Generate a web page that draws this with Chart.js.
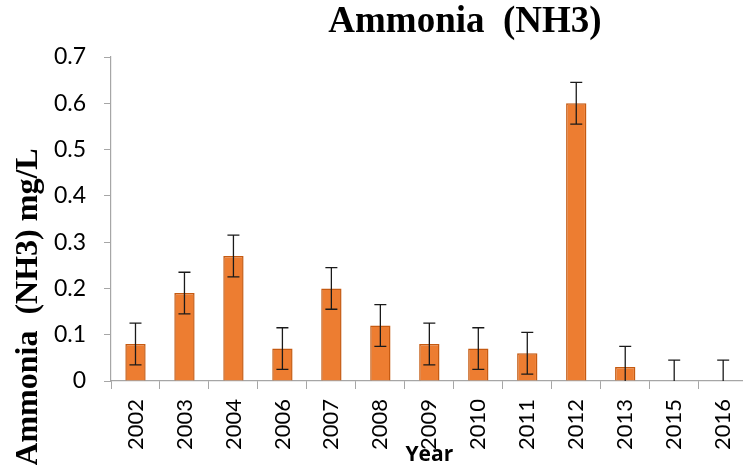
<!DOCTYPE html>
<html>
<head>
<meta charset="utf-8">
<script src="https://cdn.jsdelivr.net/npm/chart.js@4/dist/chart.umd.min.js"></script>
<style>
  html, body { margin: 0; padding: 0; background: #fff; overflow: hidden; }
  #wrap { width: 760px; height: 465px; }
</style>
</head>
<body>
<div id="wrap"><canvas id="c" width="760" height="465"></canvas></div>
<script>
const years = ['2002','2003','2004','2006','2007','2008','2009','2010','2011','2012','2013','2015','2016'];
const means = [0.08, 0.19, 0.27, 0.07, 0.20, 0.12, 0.08, 0.07, 0.06, 0.60, 0.03, 0, 0];
const errors = [0.045, 0.045, 0.045, 0.045, 0.045, 0.045, 0.045, 0.045, 0.045, 0.045, 0.045, 0.045, 0.045];
const yTicks = [0, 0.1, 0.2, 0.3, 0.4, 0.5, 0.6, 0.7];

const titleText = 'Ammonia  (NH3)';
const yTitleText = 'Ammonia  (NH3) mg/L';
const xTitleText = 'Year';

const errorBars = {
  id: 'errorBars',
  afterDatasetsDraw(chart) {
    const ctx = chart.ctx;
    const ys = chart.scales.y;
    const meta = chart.getDatasetMeta(0);
    const a = chart.chartArea;
    ctx.save();
    ctx.beginPath();
    ctx.rect(a.left, a.top - 5, a.right - a.left, a.bottom - a.top + 5);
    ctx.clip();
    ctx.strokeStyle = '#1a1a1a';
    ctx.lineWidth = 1.3;
    meta.data.forEach((bar, i) => {
      const x = bar.x;
      const yt = ys.getPixelForValue(means[i] + errors[i]);
      const yb = ys.getPixelForValue(means[i] - errors[i]);
      ctx.beginPath();
      ctx.moveTo(x, yt); ctx.lineTo(x, yb);
      ctx.moveTo(x - 6, yt); ctx.lineTo(x + 6, yt);
      ctx.moveTo(x - 6, yb); ctx.lineTo(x + 6, yb);
      ctx.stroke();
    });
    ctx.restore();
  }
};

const texts = {
  id: 'texts',
  afterDraw(chart) {
    const ctx = chart.ctx;
    const a = chart.chartArea;
    ctx.save();
    ctx.fillStyle = '#000';
    ctx.font = 'bold 37px "Liberation Serif", "Times New Roman", serif';
    ctx.textAlign = 'center';
    ctx.textBaseline = 'alphabetic';
    ctx.fillText(titleText, 465, 32);

    ctx.save();
    ctx.translate(37, 307);
    ctx.rotate(-Math.PI / 2);
    ctx.font = 'bold 32px "Liberation Serif", "Times New Roman", serif';
    ctx.fillText(yTitleText, 0, 0);
    ctx.restore();

    ctx.font = 'bold 21px "Open Sans", "Noto Sans", sans-serif';
    ctx.fillText(xTitleText, (a.left + a.right) / 2, 461);
    ctx.restore();
  }
};

new Chart(document.getElementById('c'), {
  type: 'bar',
  data: {
    labels: years,
    datasets: [{
      data: means,
      backgroundColor: '#ED7D31',
      borderColor: '#C55A11',
      borderWidth: means.map(v => v > 0 ? 1.5 : 0),
      barPercentage: 0.415,
      categoryPercentage: 1
    }]
  },
  options: {
    responsive: false,
    animation: false,
    layout: { padding: { top: 57, right: 11, left: 0, bottom: 0 } },
    plugins: { legend: { display: false }, title: { display: false }, tooltip: { enabled: false } },
    scales: {
      x: {
        offset: true,
        grid: { display: true, drawOnChartArea: false, drawTicks: true, tickLength: 8, color: '#a6a6a6', offset: true },
        border: { display: true, color: '#a6a6a6', width: 1.2 },
        ticks: { minRotation: 90, maxRotation: 90, autoSkip: false, padding: 10, color: '#000',
                 font: { family: '"Lato", "Noto Sans", sans-serif', size: 22 } },
        afterFit(scale) { scale.height = 84; }
      },
      y: {
        min: 0, max: 0.7,
        afterBuildTicks(scale) { scale.ticks = yTicks.map(v => ({ value: v })); },
        grid: { display: true, drawOnChartArea: false, drawTicks: true, tickLength: 7, color: '#a6a6a6' },
        border: { display: true, color: '#a6a6a6', width: 1.2 },
        ticks: { padding: 18, color: '#000', font: { family: '"Lato", "Noto Sans", sans-serif', size: 23 },
                 callback: (v) => String(Math.round(v * 10) / 10) },
        afterFit(scale) { scale.width = 111; }
      }
    }
  },
  plugins: [errorBars, texts]
});
</script>
</body>
</html>
